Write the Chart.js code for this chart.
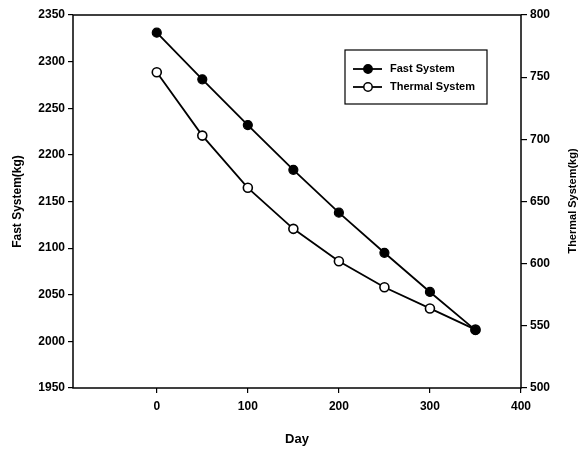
<!DOCTYPE html>
<html>
<head>
<meta charset="utf-8">
<script src="https://cdn.jsdelivr.net/npm/chart.js@4/dist/chart.umd.min.js"></script>
<style>
  html, body { margin: 0; padding: 0; background: #fff; }
  canvas { display: block; }
</style>
</head>
<body>
<canvas id="c" width="581" height="455"></canvas>
<script>
const days = [0, 50, 100, 150, 200, 250, 300, 350];
const fastSystem = [2331, 2281, 2232, 2184, 2138, 2095, 2053, 2012];
const thermalSystem = [754, 703, 661, 628, 602, 581, 564, 547];
const xTicks = [0, 100, 200, 300, 400];
const leftTicks = [1950, 2000, 2050, 2100, 2150, 2200, 2250, 2300, 2350];
const rightTicks = [500, 550, 600, 650, 700, 750, 800];
const seriesNames = ['Fast System', 'Thermal System'];
const axisTitles = { x: 'Day', left: 'Fast System(kg)', right: 'Thermal System(kg)' };

const FONT = '"Liberation Sans", Arial, sans-serif';

const framePlugin = {
  id: 'frame',
  beforeDatasetsDraw(chart) {
    const { ctx, chartArea: a } = chart;
    ctx.save();
    ctx.strokeStyle = '#000';
    ctx.lineWidth = 1.5;
    ctx.strokeRect(a.left, a.top, a.right - a.left, a.bottom - a.top);
    ctx.restore();
  }
};

const extrasPlugin = {
  id: 'extras',
  afterDraw(chart) {
    const ctx = chart.ctx;
    ctx.save();
    ctx.fillStyle = '#000';
    ctx.font = 'bold 11px ' + FONT;
    ctx.textAlign = 'center';
    ctx.textBaseline = 'middle';
    ctx.translate(573, 201);
    ctx.rotate(-Math.PI / 2);
    ctx.fillText(axisTitles.right, 0, 0);
    ctx.restore();

    ctx.save();
    const bx = 345, by = 50, bw = 142, bh = 54;
    ctx.fillStyle = '#fff';
    ctx.fillRect(bx, by, bw, bh);
    ctx.strokeStyle = '#000';
    ctx.lineWidth = 1.2;
    ctx.strokeRect(bx, by, bw, bh);
    ctx.font = 'bold 11px ' + FONT;
    ctx.textBaseline = 'middle';
    ctx.textAlign = 'left';
    chart.data.datasets.forEach((ds, i) => {
      const y = 69 + i * 18;
      ctx.strokeStyle = '#000';
      ctx.lineWidth = 1.8;
      ctx.beginPath();
      ctx.moveTo(353, y);
      ctx.lineTo(382, y);
      ctx.stroke();
      ctx.beginPath();
      ctx.arc(368, y, 4.2, 0, Math.PI * 2);
      ctx.fillStyle = ds.pointBackgroundColor;
      ctx.fill();
      ctx.lineWidth = 1.5;
      ctx.stroke();
      ctx.fillStyle = '#000';
      ctx.fillText(ds.label, 390, y);
    });
    ctx.restore();
  }
};

const tickGrid = (len) => ({
  display: true,
  drawOnChartArea: false,
  drawTicks: true,
  tickLength: len,
  color: '#000',
  lineWidth: 1.2
});

const plainLabel = v => String(v);

new Chart(document.getElementById('c'), {
  type: 'line',
  data: {
    datasets: [
      {
        label: seriesNames[0],
        data: days.map((d, i) => ({ x: d, y: fastSystem[i] })),
        yAxisID: 'y',
        borderColor: '#000',
        borderWidth: 1.8,
        pointRadius: 4.5,
        pointBackgroundColor: '#000',
        pointBorderColor: '#000',
        pointBorderWidth: 1.2,
        tension: 0,
        fill: false
      },
      {
        label: seriesNames[1],
        data: days.map((d, i) => ({ x: d, y: thermalSystem[i] })),
        yAxisID: 'y2',
        borderColor: '#000',
        borderWidth: 1.8,
        pointRadius: 4.5,
        pointBackgroundColor: '#fff',
        pointBorderColor: '#000',
        pointBorderWidth: 1.6,
        tension: 0,
        fill: false
      }
    ]
  },
  options: {
    responsive: false,
    animation: false,
    layout: { padding: { top: 15, left: 0, right: 0, bottom: 0 } },
    plugins: { legend: { display: false }, tooltip: { enabled: false } },
    scales: {
      x: {
        type: 'linear',
        position: 'bottom',
        min: -92,
        max: 400,
        afterBuildTicks: s => { s.ticks = xTicks.map(v => ({ value: v })); },
        afterFit: s => { s.height = 67; },
        grid: tickGrid(5),
        border: { display: false },
        ticks: { color: '#000', font: { family: FONT, size: 12, weight: 'bold' }, padding: 6, maxRotation: 0, callback: plainLabel },
        title: { display: true, text: axisTitles.x, color: '#000', font: { family: FONT, size: 13, weight: 'bold' }, padding: { top: 4, bottom: 8 } }
      },
      y: {
        type: 'linear',
        position: 'left',
        min: 1950,
        max: 2350,
        afterBuildTicks: s => { s.ticks = leftTicks.map(v => ({ value: v })); },
        afterFit: s => { s.width = 73; },
        grid: tickGrid(5),
        border: { display: false },
        ticks: { color: '#000', font: { family: FONT, size: 12, weight: 'bold' }, padding: 3, callback: plainLabel },
        title: { display: true, text: axisTitles.left, color: '#000', font: { family: FONT, size: 12, weight: 'bold' }, padding: { top: 10, bottom: 4 } }
      },
      y2: {
        type: 'linear',
        position: 'right',
        min: 500,
        max: 800,
        afterBuildTicks: s => { s.ticks = rightTicks.map(v => ({ value: v })); },
        afterFit: s => { s.width = 60; },
        grid: tickGrid(6),
        border: { display: false },
        ticks: { color: '#000', font: { family: FONT, size: 12, weight: 'bold' }, padding: 3, callback: plainLabel }
      }
    }
  },
  plugins: [framePlugin, extrasPlugin]
});
</script>
</body>
</html>
